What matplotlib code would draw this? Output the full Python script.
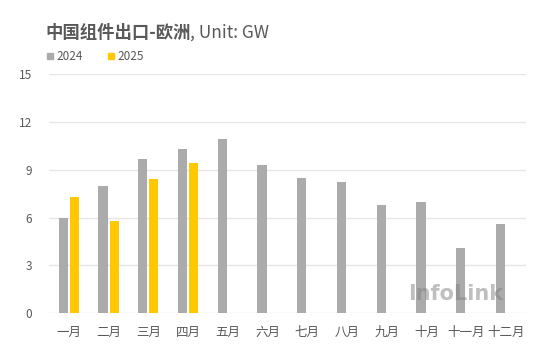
import numpy as np
import matplotlib
matplotlib.use('Agg')
from matplotlib import pyplot as plt

plt.rcParams['font.family'] = ['Noto Sans CJK SC', 'DejaVu Sans']

months = ['一月', '二月', '三月', '四月', '五月', '六月', '七月', '八月', '九月', '十月', '十一月', '十二月']
v2024 = [6.0, 8.0, 9.7, 10.3, 10.9, 9.3, 8.5, 8.2, 6.8, 7.0, 4.1, 5.6]
v2025 = [7.3, 5.8, 8.4, 9.4]
yticks = [0, 3, 6, 9, 12, 15]

gray = '#ABABAB'
yellow = '#FFC800'
txt = '#595959'

fig = plt.figure(figsize=(5.59, 3.51), dpi=100)
ax = fig.add_axes([0.0877, 0.1074, 0.853, 0.6818])

x = np.arange(len(months))
w = 0.23
ax.bar(x - 0.14, v2024, width=w, color=gray, zorder=2)
ax.bar(x[:len(v2025)] + 0.14, v2025, width=w, color=yellow, zorder=2)

ax.set_xlim(-0.5, len(months) - 0.5)
ax.set_ylim(0, 15)
ax.set_yticks(yticks)
ax.set_xticks(x)
ax.set_xticklabels(months, fontsize=9)
ax.yaxis.grid(True, color='#E6E6E6', linewidth=1)
ax.set_axisbelow(True)
for s in ax.spines.values():
    s.set_visible(False)
ax.tick_params(length=0, colors=txt)
ax.tick_params(axis='y', pad=12, labelsize=8.5)
ax.tick_params(axis='x', pad=9)

# title
t1 = fig.text(45 / 559, 1 - 33 / 351, '中国组件出口-欧洲', fontsize=12.5, color=txt,
              weight='bold', va='center', ha='left')
fig.canvas.draw()
bb = t1.get_window_extent()
fig.text(bb.x1 / 559, 1 - 33 / 351, ', Unit: GW', fontsize=12.5, color=txt,
         va='center', ha='left')

# legend
for lx, lab, c in [(47, '2024', gray), (108, '2025', yellow)]:
    fig.patches.append(plt.Rectangle((lx / 559, 1 - 59 / 351), 6 / 559, 6 / 351,
                                     transform=fig.transFigure, color=c, figure=fig))
    fig.text((lx + 9) / 559, 1 - 56 / 351, lab, fontsize=8.5, color=txt, va='center', ha='left')

# watermark
fig.text(456 / 559, 1 - 294 / 351, 'InfoLink', fontsize=15, color='#808080', alpha=0.5,
         ha='center', va='center', family='DejaVu Sans', weight='bold')

fig.savefig('out.png', dpi=100)
